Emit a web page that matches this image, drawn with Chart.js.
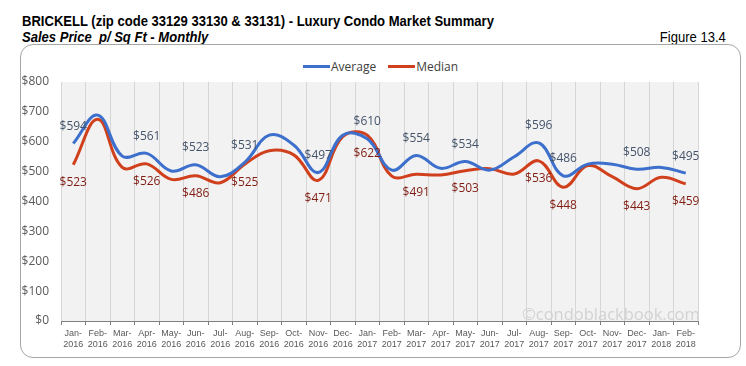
<!DOCTYPE html>
<html>
<head>
<meta charset="utf-8">
<script src="https://cdn.jsdelivr.net/npm/chart.js@4.4.1/dist/chart.umd.min.js"></script>
<style>
  html,body{margin:0;padding:0;background:#fff;}
  #wrap{position:relative;width:746px;height:366px;overflow:hidden;font-family:"Liberation Sans",Arial,sans-serif;}
  .title,.subtitle,.fig{position:absolute;white-space:nowrap;color:#000;transform:scaleX(0.87);}
  .title{left:22px;top:12px;font:bold 15px "Liberation Sans",Arial,sans-serif;transform-origin:left top;}
  .subtitle{left:22px;top:28px;font:italic bold 15px "Liberation Sans",Arial,sans-serif;transform-origin:left top;}
  .fig{right:20px;top:28px;font:15px "Liberation Sans",Arial,sans-serif;transform-origin:right top;}
  .box{position:absolute;left:20px;top:44px;width:719px;height:312px;border:1px solid #a6a6a6;border-radius:13px;}
  .legend{position:absolute;top:58px;left:303px;font:12px "Open Sans","Liberation Sans",sans-serif;color:#404040;display:flex;align-items:center;}
  .legend i{display:inline-block;width:27px;height:3px;margin-right:1px;}
  .legend span{margin-right:12px;}
  .wm{position:absolute;left:522px;top:302px;font:16.5px "Open Sans",sans-serif;color:#d2d2d2;white-space:nowrap;}
  canvas{position:absolute;left:0;top:0;}
</style>
</head>
<body>
<div id="wrap">
  <div class="title">BRICKELL (zip code 33129 33130 &amp; 33131) - Luxury Condo Market Summary</div>
  <div class="subtitle">Sales Price&nbsp; p/ Sq Ft - Monthly</div>
  <div class="fig">Figure 13.4</div>
  <div class="box"></div>
  <div class="legend"><i style="background:#3d6fcc"></i><span>Average</span><i style="background:#d1401c"></i><span>Median</span></div>
  <canvas id="c" width="746" height="366"></canvas>
  <div class="wm">©condoblackbook.com</div>
</div>
<script>
// months Jan-2016 .. Feb-2018
const months = ['Jan','Feb','Mar','Apr','May','Jun','Jul','Aug','Sep','Oct','Nov','Dec',
                'Jan','Feb','Mar','Apr','May','Jun','Jul','Aug','Sep','Oct','Nov','Dec','Jan','Feb'];
const years = ['2016','2016','2016','2016','2016','2016','2016','2016','2016','2016','2016','2016',
               '2017','2017','2017','2017','2017','2017','2017','2017','2017','2017','2017','2017','2018','2018'];

// price per sq ft (labelled points are exact)
const average = [594,689,552,561,502,523,483,531,622,589,497,622,610,505,554,511,534,505,550,596,486,525,525,508,514,495];
const median  = [523,675,514,526,474,486,463,525,570,556,471,617,622,485,491,489,503,510,492,536,448,520,483,443,481,459];

// which points carry a value label
const avgLabelIdx = [0,3,5,7,10,12,14,16,19,20,23,25];
const medLabelIdx = [0,3,5,7,10,12,14,16,19,20,23,25];

const yTicks = [0,100,200,300,400,500,600,700,800];

const labels = months.map((m,i)=>[m+'-', years[i]]);

// grey plot background
const plotBg = {
  id:'plotBg',
  beforeDraw(chart){
    const {ctx, chartArea:a} = chart;
    ctx.save();
    ctx.fillStyle = '#f2f2f2';
    ctx.fillRect(a.left, a.top, a.right-a.left, a.bottom-a.top);
    ctx.restore();
  }
};

// value labels: average above, median below
const valueLabels = {
  id:'valueLabels',
  afterDatasetsDraw(chart){
    const ctx = chart.ctx;
    ctx.save();
    ctx.font = '12px "Open Sans","Liberation Sans",sans-serif';
    ctx.textAlign = 'center';
    ctx.textBaseline = 'middle';
    const sets = [[0, avgLabelIdx, '#44546a', -17],[1, medLabelIdx, '#7f1d12', 18]];
    sets.forEach(([di, idx, col, off])=>{
      const meta = chart.getDatasetMeta(di);
      ctx.fillStyle = col;
      idx.forEach(i=>{
        const p = meta.data[i];
        const v = chart.data.datasets[di].data[i];
        ctx.fillText('$'+v, p.x, p.y+off);
      });
    });
    ctx.restore();
  }
};

new Chart(document.getElementById('c'), {
  type:'line',
  data:{
    labels:labels,
    datasets:[
      {label:'Average', data:average, borderColor:'#3d6fcc', borderWidth:3, pointRadius:0, tension:0.4, fill:false},
      {label:'Median', data:median, borderColor:'#d1401c', borderWidth:3, pointRadius:0, tension:0.4, fill:false}
    ]
  },
  options:{
    responsive:false,
    animation:false,
    layout:{padding:{left:0, top:82, right:48, bottom:0}},
    plugins:{legend:{display:false}, tooltip:{enabled:false}},
    scales:{
      x:{
        offset:true,
        grid:{offset:true, color:'#d6d6d6', tickColor:'#7f7f7f', tickLength:4, lineWidth:1},
        border:{color:'#7f7f7f'},
        ticks:{color:'#595959', font:{size:9, family:'"Liberation Sans",Arial,sans-serif', lineHeight:1.25}, maxRotation:0, autoSkip:false, padding:3},
        afterFit(s){ s.height = 45; }
      },
      y:{
        min:0, max:800,
        afterBuildTicks(s){ s.ticks = yTicks.map(v=>({value:v})); },
        grid:{display:false, drawTicks:false},
        border:{display:false},
        ticks:{color:'#595959', font:{size:12, family:'"Open Sans","Liberation Sans",sans-serif'}, padding:12, callback:v=>'$'+v},
        afterFit(s){ s.width = 61; }
      }
    }
  },
  plugins:[plotBg, valueLabels]
});
</script>
</body>
</html>
